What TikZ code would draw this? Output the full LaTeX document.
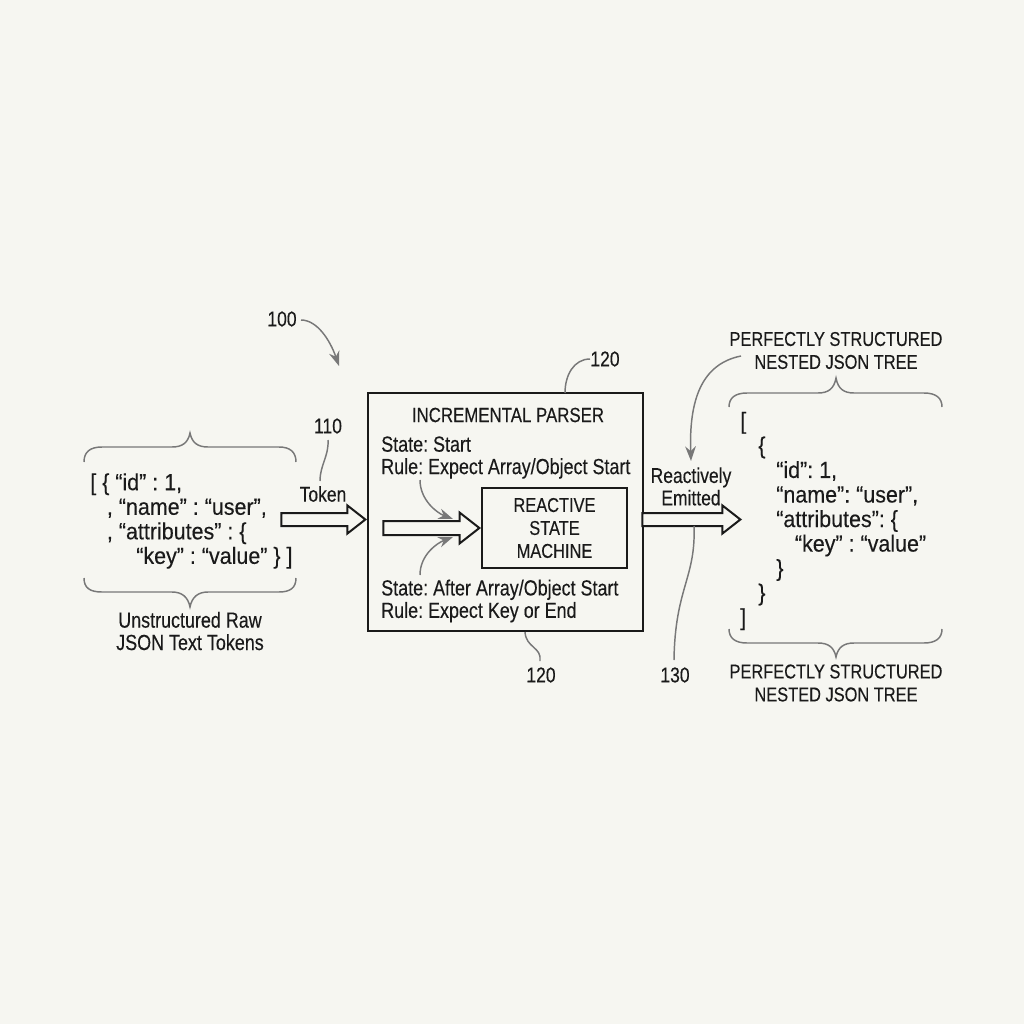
\documentclass[tikz,border=0pt]{standalone}
\usepackage{fontspec}
\setmainfont[FakeStretch=0.82,FakeBold=0.25]{Liberation Sans}
\newfontfamily\jsonf[FakeStretch=0.92,FakeBold=0.25]{Liberation Sans}
\usetikzlibrary{shapes.arrows,arrows.meta}
\definecolor{paper}{HTML}{F6F6F1}
\definecolor{ink}{HTML}{1A1A1A}
\definecolor{lead}{HTML}{787878}
\def\px{0.75pt}
\newcommand{\shaft}[1]{\rule{0pt}{#1}}
\tikzset{
 txt/.style={inner sep=0pt,text=ink,font=\frenchspacing\fontsize{16}{16.8}\selectfont,align=center},
 capt/.style={txt,font=\frenchspacing\fontsize{15}{17.2}\selectfont},
 ttl/.style={txt,font=\frenchspacing\fontsize{15.4}{16.8}\selectfont},
 rule/.style={txt,align=left,font=\frenchspacing\fontsize{16.4}{16.8}\selectfont},
 jsn/.style={txt,align=left,font=\jsonf\frenchspacing\fontsize{17.5}{18.4}\selectfont},
 boxs/.style={draw=ink,line width=1.5pt,fill=none},
 hollow/.style={single arrow,draw=ink,fill=paper,line width=1.5pt,inner sep=0pt,anchor=tip,
   shape border rotate=0,single arrow tip angle=76},
 leader/.style={draw=lead,line width=1.1pt},
 leadarrow/.style={leader,-{Stealth[length=11pt,width=8pt]}},
 brace/.style={draw=lead,line width=1.1pt},
}
\begin{document}
\begin{tikzpicture}[x=0.75pt,y=-0.75pt]
\fill[paper] (0,0) rectangle (1024,1024);
\useasboundingbox (0,0) rectangle (1024,1024);
% boxes
\node[boxs,minimum width={275*\px},minimum height={238*\px},inner sep=0pt] (parser) at (505.5,512) {};
\node[boxs,minimum width={145*\px},minimum height={80*\px},inner sep=0pt,capt,draw=ink,text width={140*\px}] (machine) at (554.5,528) {REACTIVE\\STATE\\MACHINE};
% labels
\node[txt] (n100) at (282,319) {100};
\node[txt] (n110) at (328,426) {110};
\node[txt] (ntop) at (605,359) {120};
\node[txt] (nbot) at (541,675) {120};
\node[txt] (n130) at (675,675) {130};
\node[txt] (token) at (323,494) {Token};
\node[txt] (react) at (691,486.5) {Reactively\\Emitted};
\node[ttl] (title) at (508,415) {INCREMENTAL PARSER};
\node[rule,anchor=west] (st1) at (381,457.5) {State: Start\\Rule: Expect Array/Object Start};
\node[rule,anchor=west] (st2) at (381,601) {State: After Array/Object Start\\Rule: Expect Key or End};
\node[rule,align=center] (raw) at (190,631) {Unstructured Raw\\JSON Text Tokens};
\node[capt] (treetop) at (836,350.5) {PERFECTLY STRUCTURED\\NESTED JSON TREE};
\node[capt] (treebot) at (836,683) {PERFECTLY STRUCTURED\\NESTED JSON TREE};
\node[jsn,anchor=west] (rawjson) at (90,521) {[ \{ “id” : 1,\\
\hspace*{12.5pt}, “name” : “user”,\\
\hspace*{12.5pt}, “attributes” : \{\\
\hspace*{34.5pt}“key” : “value” \} ]};
\node[jsn,anchor=west] (treejson) at (740,521) {[\\
\hspace*{13.5pt}\{\\
\hspace*{27pt}“id”: 1,\\
\hspace*{27pt}“name”: “user”,\\
\hspace*{27pt}“attributes”: \{\\
\hspace*{41pt}“key” : “value”\\
\hspace*{27pt}\}\\
\hspace*{13.5pt}\}\\
]};
% coordinates
\coordinate (c100) at (339,366);
\coordinate (in) at (parser.west |- 0,519.5);
\coordinate (out) at (742,519.5);
\coordinate (f1) at (453,519);
\coordinate (f2) at (453,537);
\coordinate (s1) at (420,480);
\coordinate (s2) at (420,575);
\coordinate (j110) at (320,481);
\coordinate (ptop) at (565,393);
\coordinate (pbot) at (525,632);
\coordinate (a130) at (694,526);
\coordinate (e130) at (674,660);
\coordinate (e110) at (328,440);
\coordinate (ebot) at (540,661);
\coordinate (etop) at (590,359);
\coordinate (e100) at (301,320);
\coordinate (etree) at (741,356);
\coordinate (ereact) at (691,461);
% hollow arrows
\node[hollow,minimum height={84*\px},single arrow head extend={7.5*\px}] (a1) at (in) {\shaft{8.25pt}};
\node[hollow,minimum height={96*\px},single arrow head extend={8.5*\px}] (a2) at (machine.west) {\shaft{9pt}};
\node[hollow,minimum height={98*\px},single arrow head extend={7.5*\px}] (a3) at (out) {\shaft{8.25pt}};
% leaders
\draw[leadarrow] (e100) .. controls +(16,0) and +(-9,-26) .. (c100);
\draw[leader] (e110) .. controls +(1,16) and +(0,-16) .. (j110);
\draw[leader] (etop) .. controls +(-16,0) and +(0,-18) .. (ptop);
\draw[leader] (pbot) .. controls +(1,16) and +(2,-14) .. (ebot);
\draw[leader] (a130) .. controls +(2,52) and +(1,-72) .. (e130);
\draw[leadarrow] (etree) .. controls +(-40,8) and +(-2,-60) .. (ereact);
\draw[leadarrow] (s1) .. controls +(0,20) and +(-16,-6) .. (f1);
\draw[leadarrow] (s2) .. controls +(0,-20) and +(-16,6) .. (f2);
% braces
\draw[brace] (84,462) .. controls (84,452) and (90,447) .. (102,447) -- (172,447) .. controls (182,447) and (188,443) .. (190,433) .. controls (192,443) and (198,447) .. (208,447) -- (279,447) .. controls (290,447) and (296,452) .. (296,462);
\draw[brace] (84,578) .. controls (84,588) and (90,592) .. (102,592) -- (172,592) .. controls (182,592) and (188,597) .. (190,607) .. controls (192,597) and (198,592) .. (208,592) -- (279,592) .. controls (290,592) and (296,588) .. (296,578);
\draw[brace] (729,407) .. controls (729,398) and (735,393) .. (747,393) -- (818,393) .. controls (828,393) and (834,389) .. (836,378) .. controls (838,389) and (844,393) .. (854,393) -- (924,393) .. controls (936,393) and (942,398) .. (942,407);
\draw[brace] (729,629) .. controls (729,638) and (735,643) .. (747,643) -- (818,643) .. controls (828,643) and (834,647) .. (836,657) .. controls (838,647) and (844,643) .. (854,643) -- (924,643) .. controls (936,643) and (942,638) .. (942,629);
\end{tikzpicture}
\end{document}
